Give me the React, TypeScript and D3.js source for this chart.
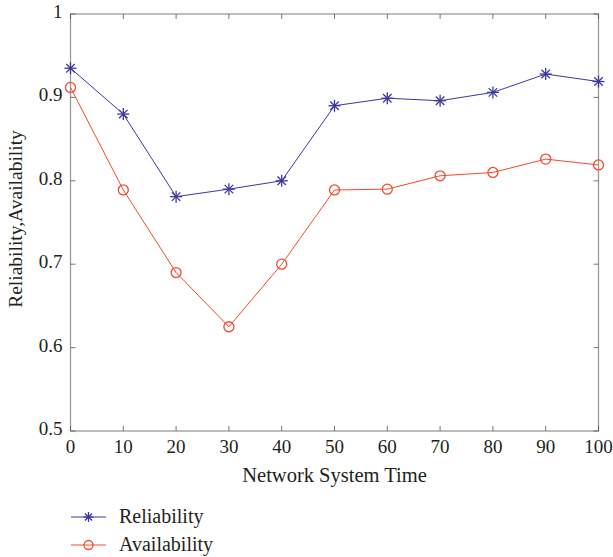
import React from "react";
import * as d3 from "d3";

const times = [0, 10, 20, 30, 40, 50, 60, 70, 80, 90, 100];
const reliability = [0.935, 0.88, 0.781, 0.79, 0.8, 0.89, 0.899, 0.896, 0.906, 0.928, 0.919];
const availability = [0.912, 0.789, 0.69, 0.625, 0.7, 0.789, 0.79, 0.806, 0.81, 0.826, 0.819];
const xTicks = [0, 10, 20, 30, 40, 50, 60, 70, 80, 90, 100];
const yTicks = [0.5, 0.6, 0.7, 0.8, 0.9, 1];
const seriesNames = ["Reliability", "Availability"];
const xLabel = "Network System Time";
const yLabel = "Reliability,Availability";

const W = 613;
const H = 557;
const left = 70.5;
const right = 598.5;
const top = 14;
const bottom = 431;
const blue = "#3b37a0";
const red = "#f24a2e";
const axisColor = "#9a9a9a";
const textColor = "#231f20";
const font = "'Liberation Serif', 'Times New Roman', serif";

function Star({ x, y, r, color }: { x: number; y: number; r: number; color: string }) {
  const d = 0.707 * r;
  return (
    <g stroke={color} strokeWidth={1.3}>
      <line x1={x - r} y1={y} x2={x + r} y2={y} />
      <line x1={x} y1={y - r} x2={x} y2={y + r} />
      <line x1={x - d} y1={y - d} x2={x + d} y2={y + d} />
      <line x1={x - d} y1={y + d} x2={x + d} y2={y - d} />
    </g>
  );
}

export default function App() {
  const x = d3.scaleLinear().domain([0, 100]).range([left, right]);
  const y = d3.scaleLinear().domain([0.5, 1]).range([bottom, top]);
  const line = d3
    .line<number>()
    .x((_, i) => x(times[i]))
    .y((v) => y(v));
  const tl = 5;
  return (
    <svg
      width={W}
      height={H}
      style={{ position: "absolute", left: 0, top: 0, background: "#fff" }}
      fontFamily={font}
    >
      <rect x={0} y={0} width={W} height={H} fill="#fff" />
      <rect x={left} y={top} width={right - left} height={bottom - top} fill="none" stroke={axisColor} strokeWidth={1.3} />
      {xTicks.map((t) => (
        <g key={"x" + t}>
          <line x1={x(t)} x2={x(t)} y1={bottom} y2={bottom - tl} stroke="#555" strokeWidth={0.8} />
          <line x1={x(t)} x2={x(t)} y1={top} y2={top + tl} stroke="#555" strokeWidth={0.8} />
          <text x={x(t)} y={bottom + 22} textAnchor="middle" fontSize={19} fill={textColor}>
            {t}
          </text>
        </g>
      ))}
      {yTicks.map((t) => (
        <g key={"y" + t}>
          <line x1={left} x2={left + tl} y1={y(t)} y2={y(t)} stroke="#555" strokeWidth={0.8} />
          <line x1={right} x2={right - tl} y1={y(t)} y2={y(t)} stroke="#555" strokeWidth={0.8} />
          <text x={left - 8} y={y(t) + 4} textAnchor="end" fontSize={19} fill={textColor}>
            {t === 1 ? "1" : t.toFixed(1)}
          </text>
        </g>
      ))}
      <text x={(left + right) / 2} y={bottom + 51} textAnchor="middle" fontSize={20.5} fill={textColor}>
        {xLabel}
      </text>
      <text
        transform={`translate(${22},${219}) rotate(-90)`}
        textAnchor="middle"
        fontSize={19.5}
        fill={textColor}
      >
        {yLabel}
      </text>
      <path d={line(reliability) || ""} fill="none" stroke={blue} strokeWidth={1} />
      <path d={line(availability) || ""} fill="none" stroke={red} strokeWidth={1} />
      {reliability.map((v, i) => (
        <Star key={"r" + i} x={x(times[i])} y={y(v)} r={6} color={blue} />
      ))}
      {availability.map((v, i) => (
        <circle key={"a" + i} cx={x(times[i])} cy={y(v)} r={5} fill="none" stroke={red} strokeWidth={1.3} />
      ))}
      <g>
        <line x1={71} x2={106} y1={517} y2={517} stroke={blue} strokeWidth={1} />
        <Star x={88.5} y={517} r={5} color={blue} />
        <text x={119} y={523} fontSize={20} fill={textColor}>
          {seriesNames[0]}
        </text>
        <line x1={71} x2={106} y1={545} y2={545} stroke={red} strokeWidth={1} />
        <circle cx={88.5} cy={545} r={4.5} fill="none" stroke={red} strokeWidth={1.3} />
        <text x={119} y={551} fontSize={20} fill={textColor}>
          {seriesNames[1]}
        </text>
      </g>
    </svg>
  );
}
